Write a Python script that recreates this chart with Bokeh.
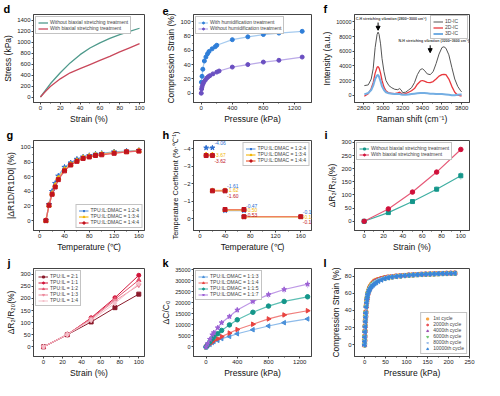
import numpy as np
from bokeh.plotting import figure
from bokeh.layouts import gridplot
from bokeh.models import Range1d, FixedTicker, Label, Arrow, NormalHead
from bokeh.core.properties import value
from bokeh.embed import file_html
from bokeh.resources import INLINE

FONT = "Liberation Sans"

# ---------------- data ----------------
# d
strain_d = [0, 5, 10, 20, 30, 40, 50, 60, 70, 80, 90, 100]
stress_without = [0, 120, 240, 440, 620, 770, 890, 985, 1065, 1135, 1195, 1250]
stress_with = [0, 100, 190, 330, 440, 515, 590, 665, 740, 820, 895, 970]

# e
press_e_with = [2, 10, 20, 40, 60, 80, 100, 140, 180, 200, 400, 600, 800, 1000, 1300]
strain_e_with = [15.4, 23.6, 33.5, 45, 50.6, 55, 58.3, 62, 65, 67, 74.8, 78.8, 82, 84, 86.5]
press_e_without = [0, 5, 10, 20, 30, 50, 70, 90, 110, 150, 200, 230, 400, 600, 800, 1000, 1300]
strain_e_without = [0, 6, 9, 12.5, 15, 18, 21, 23, 24.5, 27, 29.5, 31, 36.5, 40, 43.5, 46, 50.5]

# f
raman_x = [2810, 2850, 2880, 2900, 2920, 2940, 2950, 2960, 2975, 2990, 3010, 3030, 3060, 3090,
           3120, 3150, 3170, 3185, 3200, 3230, 3260, 3290, 3320, 3350, 3380, 3400, 3420, 3450,
           3480, 3510, 3540, 3570, 3600, 3620, 3640, 3670, 3700, 3730, 3760, 3790, 3800]
int_1d = [1300, 1400, 2200, 3600, 6500, 8300, 8600, 8300, 7000, 5000, 3200, 2000, 1300, 1000,
          800, 750, 900, 700, 350, 400, 700, 1000, 1700, 2800, 3500, 3600, 3400, 2900,
          2800, 3200, 4300, 5600, 6500, 6600, 6400, 5500, 3800, 2200, 1200, 600, 450]
int_2d = [-150, 200, 900, 1700, 3000, 3800, 3900, 3700, 3000, 2000, 1100, 600, 300, 250,
          200, 300, 400, 250, 100, 200, 400, 600, 900, 1500, 1900, 2000, 1900, 1750,
          1700, 1850, 2200, 2600, 2800, 2850, 2800, 2200, 1200, 400, 0, -100, -100]
int_3d = [100, 300, 700, 1300, 2200, 2700, 2750, 2500, 1900, 1200, 700, 400, 250, 200,
          150, 150, 150, 100, 50, 50, 100, 150, 200, 250, 300, 300, 280, 250,
          200, 200, 150, 150, 150, 130, 100, 50, 0, 0, 50, 80, 80]

# g
temps_g = [10, 15, 20, 25, 30, 40, 50, 60, 70, 80, 90, 100, 120, 140, 160]
dr_124 = [0, 22, 40, 51, 61, 73, 79, 84, 87, 89, 91, 92, 94, 95, 96]
dr_134 = [0, 21, 37, 48, 58, 70, 77, 82, 86, 88, 90, 91, 93, 94, 95.5]
dr_144 = [0, 21, 36, 46, 56, 68, 76, 81, 85, 87, 89, 90, 92, 94, 95]

# h
t_start = [10, 20, 40, 70]
t_end = [20, 40, 70, 160]
coef_124 = [-4.06, -1.61, -0.47, -0.12]
coef_134 = [-3.67, -1.62, -0.50, -0.11]
coef_144 = [-3.62, -1.60, -0.53, -0.12]

# i
strain_i = [0, 25, 50, 75, 100]
r2_without = [0, 33, 75, 122, 173]
r2_without_err = [0, 3, 4, 10, 15]
r2_with = [0, 47, 111, 187, 273]
r2_with_err = [0, 3, 5, 5, 5]

# j
strain_j = [0, 25, 50, 75, 100]
j_21 = [0, 50, 103, 162, 218]
j_11 = [0, 50, 120, 203, 296]
j_12 = [0, 52, 118, 197, 276]
j_13 = [0, 51, 115, 190, 255]
j_14 = [0, 51, 110, 180, 262]

# k
press_k = [0, 20, 50, 80, 100, 150, 200, 300, 400, 600, 800, 1000, 1300]
c_113 = [0, 500, 1200, 2000, 2500, 3000, 3800, 4800, 6000, 7800, 9500, 11000, 12700]
c_114 = [0, 600, 1500, 2300, 3000, 3700, 4700, 6300, 7900, 10300, 12700, 14500, 16400]
c_115 = [0, 1000, 2400, 3800, 4600, 6000, 7500, 10000, 12300, 15700, 18500, 20600, 22700]
c_117 = [0, 1500, 3500, 5500, 6500, 8700, 11000, 13800, 16700, 20600, 23700, 26000, 28400]
c_115_err = [0, 200, 300, 400, 400, 500, 500, 600, 700, 800, 900, 1000, 1000]
c_117_err = [0, 300, 500, 700, 800, 1000, 1200, 1300, 1400, 1500, 1600, 1700, 1800]

# l
press_l = [0, 0.3, 0.6, 1, 1.5, 2, 2.5, 3, 4, 5,
           6, 7, 8, 10, 12, 14, 17, 20, 24, 28,
           33, 40, 48, 56, 65, 75, 85, 95, 105, 115,
           125, 135, 145, 155, 165, 175, 185, 195, 205, 215]
l_1 = [0, 5, 10, 16, 22, 28, 33, 38, 45, 50,
       54, 57, 60, 63, 66, 68, 70, 72, 74, 75,
       76, 77, 78, 78.7, 79.3, 79.8, 80.3, 80.7, 81.1, 81.4,
       81.7, 82, 82.2, 82.4, 82.6, 82.8, 83, 83.1, 83.2, 83.3]
l_2000 = [0, 5, 10, 16, 22, 28, 33, 38, 45, 50,
          54, 57, 60, 63, 66, 68, 70, 72, 73.8, 74.8,
          75.8, 76.9, 77.9, 78.6, 79.2, 79.8, 80.3, 80.7, 81.1, 81.4,
          81.7, 82, 82.2, 82.4, 82.6, 82.8, 83, 83.1, 83.2, 83.3]
l_4000 = [0, 5, 10, 16, 22, 28, 33, 38, 45, 50,
          54, 57, 60, 63, 65.5, 67.5, 69.5, 71.5, 73, 74,
          75.3, 76.5, 77.6, 78.5, 79.1, 79.7, 80.2, 80.6, 81, 81.4,
          81.7, 81.9, 82.2, 82.4, 82.6, 82.8, 82.9, 83.1, 83.2, 83.3]
l_6000 = [0, 4.5, 9.5, 15.5, 21.5, 27.5, 32.5, 37.5, 44.5, 49.5,
          53.5, 56.5, 59.5, 62.5, 65, 67, 69, 71, 72.5, 73.5,
          75, 76.2, 77.4, 78.3, 79, 79.6, 80.1, 80.6, 81, 81.3,
          81.6, 81.9, 82.1, 82.3, 82.5, 82.7, 82.9, 83, 83.1, 83.2]
l_8000 = [0, 4, 9, 15, 21, 27, 32, 37, 44, 49,
          53, 56, 59, 62, 64.5, 66.5, 68.5, 70.5, 72, 73,
          74.5, 76, 77.2, 78.2, 79, 79.6, 80.1, 80.5, 80.9, 81.3,
          81.6, 81.9, 82.1, 82.3, 82.5, 82.7, 82.9, 83, 83.1, 83.2]
l_10000 = [0, 4, 9, 15, 21, 27, 32, 37, 44, 49,
           53, 56, 59, 62, 64, 66, 68, 69.5, 71, 72.5,
           74, 75.5, 77, 78, 78.8, 79.5, 80, 80.5, 80.9, 81.3,
           81.6, 81.9, 82.1, 82.3, 82.5, 82.7, 82.9, 83, 83.1, 83.2]


# ---------------- helpers ----------------
def make(w, h, xr, yr, bl, br, bt, bb, xlabel, ylabel, xt, xm, yt, ym, letter,
         ytick_size="6px", ylabel_size="8.5px"):
    p = figure(width=w, height=h, x_range=Range1d(*xr), y_range=Range1d(*yr),
               output_backend="svg", toolbar_location=None,
               min_border_left=bl, min_border_right=br,
               min_border_top=bt, min_border_bottom=bb)
    p.xgrid.visible = False
    p.ygrid.visible = False
    p.outline_line_color = "#444444"
    p.outline_line_width = 1
    p.background_fill_color = "white"
    p.border_fill_color = "white"
    for ax in (p.xaxis[0], p.yaxis[0]):
        ax.axis_line_color = "#444444"
        ax.major_tick_line_color = "#444444"
        ax.minor_tick_line_color = "#444444"
        ax.major_tick_out = 2
        ax.major_tick_in = 0
        ax.minor_tick_out = 1
        ax.minor_tick_in = 0
        ax.major_label_text_font = FONT
        ax.major_label_text_font_size = "6px"
        ax.major_label_text_color = "#222222"
        ax.major_label_standoff = 1
        ax.axis_label_text_font = FONT
        ax.axis_label_text_font_size = "8.5px"
        ax.axis_label_text_font_style = "normal"
        ax.axis_label_standoff = 1
        ax.axis_label_text_color = "#111111"
    p.yaxis.major_label_text_font_size = ytick_size
    p.yaxis.axis_label_text_font_size = ylabel_size
    p.xaxis.axis_label = xlabel
    p.yaxis.axis_label = ylabel
    p.xaxis.ticker = FixedTicker(ticks=xt, minor_ticks=xm)
    p.yaxis.ticker = FixedTicker(ticks=yt, minor_ticks=ym)
    # panel letter as a left-aligned title shifted over the left border
    p.title.text = letter
    p.title.align = "left"
    p.title.offset = -bl + 1
    p.title.standoff = 0
    p.title.text_font = FONT
    p.title.text_font_size = "11px"
    p.title.text_font_style = "bold"
    p.title.text_color = "black"
    return p


def style_legend(p, loc, gw=10):
    lg = p.legend[0]
    lg.location = loc
    lg.label_text_font = FONT
    lg.label_text_font_size = "5px"
    lg.label_height = 5
    lg.glyph_height = 5
    lg.glyph_width = gw
    lg.spacing = 0
    lg.padding = 2
    lg.margin = 2
    lg.label_standoff = 2
    lg.border_line_color = "#888888"
    lg.border_line_width = 0.7
    lg.background_fill_alpha = 1


W1, W2, W3 = 158, 161, 165
H1, H2, H3 = 126, 128, 126
BT = 13

# ---------------- d ----------------
pd_ = make(W1, H1, (-7, 105), (-100, 1500), 31, 14, BT, 20, "Strain (%)", "Stress (kPa)",
           [0, 20, 40, 60, 80, 100], [10, 30, 50, 70, 90],
           list(range(0, 1401, 200)), list(range(100, 1500, 200)), "d")
pd_.line(strain_d, stress_without, line_color="#4F9A8C", line_width=1.3,
         legend_label="Without biaxial stretching treatment")
pd_.line(strain_d, stress_with, line_color="#C9485B", line_width=1.3,
         legend_label="With biaxial stretching treatment")
style_legend(pd_, "top_left")

# ---------------- e ----------------
pe = make(W2, H1, (-100, 1420), (-13, 110), 32, 8, BT, 20, "Pressure (kPa)", "Compression Strain (%)",
          [0, 400, 800, 1200], [200, 600, 1000],
          [0, 20, 40, 60, 80, 100], [10, 30, 50, 70, 90], "e")
pe.line(press_e_with, strain_e_with, line_color="#A6CBEF", line_width=1.2,
        legend_label="With humidification treatment")
pe.scatter(press_e_with, strain_e_with, marker="circle", size=4, color="#2F7ED8",
           legend_label="With humidification treatment")
pe.line(press_e_without, strain_e_without, line_color="#BBAAE8", line_width=1.2,
        legend_label="Without humidification treatment")
pe.scatter(press_e_without, strain_e_without, marker="circle", size=4, color="#6A4FC1",
           legend_label="Without humidification treatment")
style_legend(pe, "top_left")

# ---------------- f ----------------
pf = make(W3, H1, (2710, 3880), (-1000, 11000), 32, 15, BT, 21, "Raman shift (cm⁻¹)", "Intensity (a.u.)",
          [2800, 3000, 3200, 3400, 3600, 3800], [2900, 3100, 3300, 3500, 3700],
          [0, 2000, 4000, 6000, 8000, 10000], [1000, 3000, 5000, 7000, 9000], "f",
          ytick_size="5.5px")
pf.line(raman_x, int_1d, line_color="#555555", line_width=1, legend_label="1D-IC")
pf.line(raman_x, int_2d, line_color="#E8383D", line_width=1.3, legend_label="2D-IC")
pf.line(raman_x, int_3d, line_color="#74AEE3", line_width=2, legend_label="3D-IC")
style_legend(pf, "top_right", gw=10)
pf.legend[0].margin = 1
pf.add_layout(Label(x=2722, y=10450, text="C-H stretching vibration (2800~3000 cm⁻¹)",
                    text_font=FONT, text_font_size="3.6px", text_font_style="bold",
                    text_baseline="middle"))
pf.add_layout(Label(x=3878, y=7350, text="N-H stretching vibration (3200~3600 cm⁻¹)",
                    text_font=FONT, text_font_size="3.6px", text_font_style="bold",
                    text_baseline="middle", text_align="right"))
pf.add_layout(Arrow(end=NormalHead(size=4, fill_color="black", line_color="black"),
                    x_start=2950, y_start=9900, x_end=2950, y_end=8850, line_width=1))
pf.add_layout(Arrow(end=NormalHead(size=4, fill_color="black", line_color="black"),
                    x_start=3480, y_start=6800, x_end=3480, y_end=5800, line_width=1))

# ---------------- g ----------------
pg = make(W1, H2, (-10, 169), (-13.5, 109.5), 28, 9, BT, 20, "Temperature (℃)", "|ΔR1D/R1D0| (%)",
          [0, 40, 80, 120, 160], [20, 60, 100, 140],
          [0, 20, 40, 60, 80, 100], [10, 30, 50, 70, 90], "g")
g_series = [(dr_124, "#2E6FD0", "#86B0E6", "star", 5.5, "TPU:IL:DMAC = 1:2:4"),
            (dr_134, "#F2B705", "#F7C94B", "triangle", 5, "TPU:IL:DMAC = 1:3:4"),
            (dr_144, "#C0141E", "#E8606A", "square", 4, "TPU:IL:DMAC = 1:4:4")]
for ys, mc, lc, mk, sz, lab in g_series:
    pg.line(temps_g, ys, line_color=lc, line_width=1.3, legend_label=lab)
    pg.scatter(temps_g, ys, marker=mk, size=sz, color=mc, legend_label=lab)
style_legend(pg, "bottom_right")

# ---------------- h ----------------
ph = make(W2, H2, (-10, 177), (0.67, -4.48), 32, 8, BT, 20, "Temperature (℃)",
          "Temperature Coefficient (%·℃⁻¹)",
          [0, 40, 80, 120, 160], [20, 60, 100, 140],
          [-4, -3, -2, -1, 0], [-3.5, -2.5, -1.5, -0.5], "h", ylabel_size="7.5px")
h_series = [(coef_124, "#2E6FD0", "#86B0E6", "star", 5, "TPU:IL:DMAC = 1:2:4", -5),
            (coef_134, "#F2B705", "#F7C94B", "triangle", 4.5, "TPU:IL:DMAC = 1:3:4", 0),
            (coef_144, "#C0141E", "#F08060", "square", 4, "TPU:IL:DMAC = 1:4:4", 5)]
for ys, mc, lc, mk, sz, lab, yo in h_series:
    ph.segment(x0=t_start, y0=ys, x1=t_end, y1=ys, line_color=lc, line_width=1.3, legend_label=lab)
    ph.scatter(t_start, ys, marker=mk, size=sz, color=mc, legend_label=lab)
    ph.scatter(t_end, ys, marker=mk, size=sz, color=mc)
    ph.text(x=t_end, y=ys, text=[f"{v:.2f}" for v in ys], text_font=value(FONT),
            text_font_size="5px", text_color=mc, text_baseline="middle",
            x_offset=2, y_offset=yo)
style_legend(ph, "top_right")

# ---------------- i ----------------
pi = make(W3, H2, (-10, 109), (-35, 307), 31, 10, BT, 20, "Strain (%)", "ΔR₂/R₂₀(%)",
          [0, 20, 40, 60, 80, 100], [10, 30, 50, 70, 90],
          [0, 50, 100, 150, 200, 250, 300], [25, 75, 125, 175, 225, 275], "i")
pi.segment(x0=strain_i, y0=[a - b for a, b in zip(r2_without, r2_without_err)],
           x1=strain_i, y1=[a + b for a, b in zip(r2_without, r2_without_err)],
           line_color="#A8D8D2", line_width=1)
pi.segment(x0=strain_i, y0=[a - b for a, b in zip(r2_with, r2_with_err)],
           x1=strain_i, y1=[a + b for a, b in zip(r2_with, r2_with_err)],
           line_color="#F0A8B8", line_width=1)
pi.line(strain_i, r2_without, line_color="#3FAFA2", line_width=1.2,
        legend_label="Without biaxial stretching treatment")
pi.scatter(strain_i, r2_without, marker="square", size=4, color="#14968A",
           legend_label="Without biaxial stretching treatment")
pi.line(strain_i, r2_with, line_color="#E65A78", line_width=1.2,
        legend_label="With biaxial stretching treatment")
pi.scatter(strain_i, r2_with, marker="circle", size=4.5, color="#D0103A",
           legend_label="With biaxial stretching treatment")
style_legend(pi, "top_left")

# ---------------- j ----------------
pj = make(W1, H3, (-10.5, 106), (-40, 324), 27, 12, BT, 21, "Strain (%)", "ΔR₂/R₂₀(%)",
          [0, 20, 40, 60, 80, 100], [10, 30, 50, 70, 90],
          [0, 50, 100, 150, 200, 250, 300], [25, 75, 125, 175, 225, 275], "j")
j_series = [(j_21, "#8B1A2B", "square", 4, "TPU:IL = 2:1"),
            (j_11, "#D2143A", "circle", 4, "TPU:IL = 1:1"),
            (j_12, "#E2506C", "triangle", 4.5, "TPU:IL = 1:2"),
            (j_13, "#EC8A9C", "inverted_triangle", 4.5, "TPU:IL = 1:3"),
            (j_14, "#F4C0CA", "diamond", 5, "TPU:IL = 1:4")]
for ys, c, mk, sz, lab in j_series:
    pj.line(strain_j, ys, line_color=c, line_width=1, legend_label=lab)
    pj.scatter(strain_j, ys, marker=mk, size=sz, color=c, legend_label=lab)
style_legend(pj, "top_left")

# ---------------- k ----------------
pk = make(W2, H3, (-160, 1350), (-4300, 35500), 32, 8, BT, 21, "Pressure (kPa)", "ΔC/C₀",
          [0, 400, 800, 1200], [200, 600, 1000],
          list(range(0, 35001, 5000)), list(range(2500, 35000, 5000)), "k",
          ytick_size="5.5px")
pk.segment(x0=press_k, y0=[a - b for a, b in zip(c_117, c_117_err)],
           x1=press_k, y1=[a + b for a, b in zip(c_117, c_117_err)],
           line_color="#D8C4F0", line_width=1)
pk.segment(x0=press_k, y0=[a - b for a, b in zip(c_115, c_115_err)],
           x1=press_k, y1=[a + b for a, b in zip(c_115, c_115_err)],
           line_color="#A8D8D2", line_width=1)
k_series = [(c_113, "#4A90D9", "#8DBBEA", "triangle", np.pi / 2, 4.5, "TPU:IL:DMAC = 1:1:3"),
            (c_114, "#E8423F", "#F0807E", "triangle", -np.pi / 2, 4.5, "TPU:IL:DMAC = 1:1:4"),
            (c_115, "#14968A", "#5DBFB4", "circle", 0, 4.5, "TPU:IL:DMAC = 1:1:5"),
            (c_117, "#9B5FD4", "#BE98E6", "star", 0, 5, "TPU:IL:DMAC = 1:1:7")]
for ys, mc, lc, mk, ang, sz, lab in k_series:
    pk.line(press_k, ys, line_color=lc, line_width=1.2, legend_label=lab)
    pk.scatter(press_k, ys, marker=mk, angle=ang, size=sz, color=mc, legend_label=lab)
style_legend(pk, "top_left")

# ---------------- l ----------------
pl = make(W3, H3, (-24, 250), (-13.5, 88.8), 32, 10, BT, 21, "Pressure (kPa)", "Compression Strain (%)",
          [0, 50, 100, 150, 200, 250], [25, 75, 125, 175, 225],
          [0, 20, 40, 60, 80], [10, 30, 50, 70], "l")
l_series = [(l_1, "#F7A541", "square", 0, 4, "1st cycle"),
            (l_2000, "#E8474C", "hex", 0, 4.5, "2000th cycle"),
            (l_4000, "#9B4FB0", "triangle", 0, 4.5, "4000th cycle"),
            (l_6000, "#6BC46B", "inverted_triangle", 0, 4.5, "6000th cycle"),
            (l_8000, "#9DBEE8", "star", 0, 5, "8000th cycle"),
            (l_10000, "#3A86D8", "triangle", np.pi / 2, 4.5, "10000th cycle")]
for ys, c, mk, ang, sz, lab in l_series:
    pl.scatter(press_l, ys, marker=mk, angle=ang, size=sz, color=c, legend_label=lab)
style_legend(pl, "bottom_right", gw=8)

grid = gridplot([[pd_, pe, pf], [pg, ph, pi], [pj, pk, pl]], toolbar_location=None)

open("out.html", "w").write(file_html(grid, INLINE))
